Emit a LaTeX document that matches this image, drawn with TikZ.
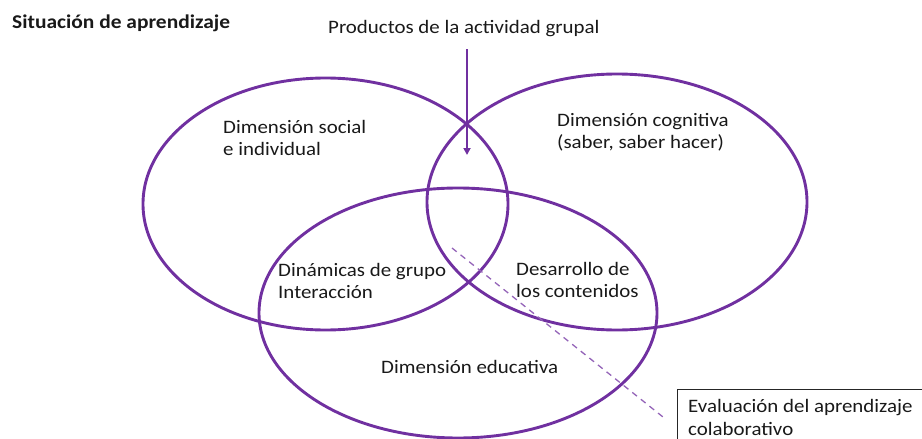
\documentclass[tikz,border=0pt]{standalone}
\usepackage{fontspec}
\setmainfont{Carlito}[FakeStretch=1.1]
\usetikzlibrary{arrows.meta}
\definecolor{vpurple}{RGB}{112,48,160}
\begin{document}
\begin{tikzpicture}[x=1pt,y=-1pt,
  ell/.style={draw=vpurple, line width=2.9pt},
  lbl/.style={anchor=base west, inner sep=0pt, align=left, text=black!90,
    font=\fontsize{19}{22.5}\selectfont},
  ttl/.style={lbl, font=\fontsize{19.5}{22.5}\selectfont\bfseries},
  arr/.style={draw=vpurple, line width=2.8pt, -{Triangle[length=7pt,width=7pt]}},
  dsh/.style={draw=vpurple!75, line width=1.3pt, dash pattern=on 6pt off 5pt},
  boxln/.style={draw=black!85, line width=0.9pt}]
\useasboundingbox (0,0) rectangle (922,439);
% ellipses
\draw[ell] (325.5,204) ellipse [x radius=182.5pt, y radius=126pt];
\draw[ell] (617,202) ellipse [x radius=190pt, y radius=128pt];
\draw[ell] (458,313) ellipse [x radius=199pt, y radius=125pt];
% texts (two-line nodes are placed by the baseline of their last line)
\node[ttl] (title) at (12,28) {Situación de aprendizaje};
\node[lbl] (prod) at (328,33) {Productos de la actividad grupal};
\node[lbl] (social) at (223,155.5) {Dimensión social\\e individual};
\node[lbl] (cogn) at (557,148.5) {Dimensión cognitiva\\(saber, saber hacer)};
\node[lbl] (dinam) at (278,298.5) {Dinámicas de grupo\\Interacción};
\node[lbl] (desar) at (516,297.5) {Desarrollo de\\los contenidos};
\node[lbl] (educ) at (381,373) {Dimensión educativa};
\node[lbl] (eval) at (688,435) {Evaluación del aprendizaje\\colaborativo};
% arrow
\coordinate (arrTop) at (467,49);
\coordinate (arrTip) at (467,155);
\draw[arr] (arrTop) -- (arrTip);
% dashed connector
\coordinate (dshA) at (452,248);
\coordinate (dshB) at (663,417);
\draw[dsh] (dshA) -- (dshB);
% box edges
\coordinate (boxTL) at (677,389);
\draw[boxln] (677,440) -- (boxTL) -- (923,389);
\end{tikzpicture}
\end{document}
